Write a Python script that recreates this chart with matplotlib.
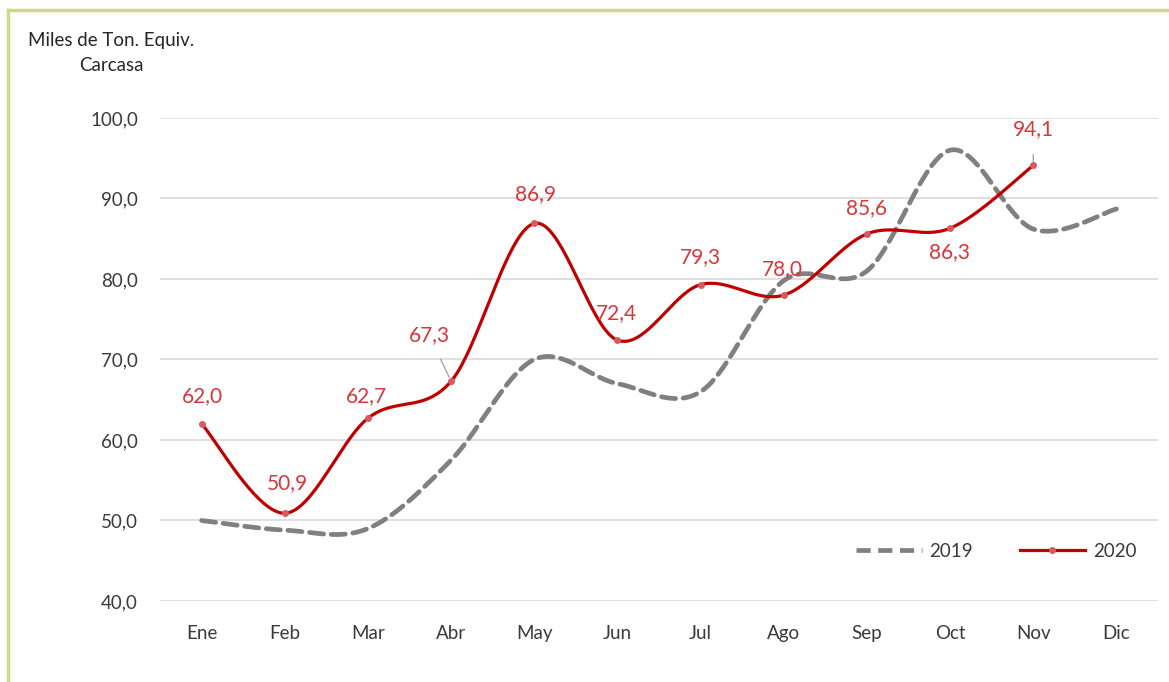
import numpy as np
import matplotlib.pyplot as plt
from matplotlib.lines import Line2D

plt.rcParams['font.family'] = ['Lato', 'DejaVu Sans']

meses = ['Ene', 'Feb', 'Mar', 'Abr', 'May', 'Jun', 'Jul', 'Ago', 'Sep', 'Oct', 'Nov', 'Dic']
serie_2019 = [50.0, 48.8, 49.0, 57.5, 70.0, 67.0, 66.0, 79.8, 81.0, 96.0, 86.2, 88.7]
serie_2020 = [62.0, 50.9, 62.7, 67.3, 86.9, 72.4, 79.3, 78.0, 85.6, 86.3, 94.1]
yticks = [40, 50, 60, 70, 80, 90, 100]

# label offsets in pixels (dx, dy) for the 2020 data labels
label_offsets = [(1, 28), (3, 30), (-2, 22), (-22, 46), (1, 29), (-1, 27),
                 (0, 28), (-1, 26), (0, 26), (-1, -24), (0, 36)]


def smooth(y, n=40):
    # Excel-like smoothed line: cubic bezier segments, tangents from neighbours
    x = np.arange(len(y), dtype=float)
    y = np.asarray(y, dtype=float)
    xs, ys = [], []
    t = np.linspace(0, 1, n)
    for i in range(len(y) - 1):
        i0 = max(i - 1, 0)
        i3 = min(i + 2, len(y) - 1)
        p0 = np.array([x[i], y[i]])
        p3 = np.array([x[i + 1], y[i + 1]])
        p1 = p0 + (p3 - np.array([x[i0], y[i0]])) / 6
        p2 = p3 - (np.array([x[i3], y[i3]]) - p0) / 6
        b = ((1 - t) ** 3)[:, None] * p0 + (3 * (1 - t) ** 2 * t)[:, None] * p1 \
            + (3 * (1 - t) * t ** 2)[:, None] * p2 + (t ** 3)[:, None] * p3
        xs.append(b[:, 0])
        ys.append(b[:, 1])
    return np.concatenate(xs), np.concatenate(ys)


fig = plt.figure(figsize=(11.69, 6.82), dpi=100)
ax = fig.add_axes([0.1369, 0.1188, 0.8537, 0.7082])

rojo = '#c00000'
gris = '#808080'

x19, y19 = smooth(serie_2019)
ax.plot(x19, y19, color=gris, linewidth=3.4, dashes=(3, 1.6),
        dash_capstyle='round', zorder=3)

x20, y20 = smooth(serie_2020)
ax.plot(x20, y20, color=rojo, linewidth=2.3, zorder=4)
ax.plot(range(len(serie_2020)), serie_2020, 'o', color='#d9595c', markersize=5,
        markeredgewidth=0, zorder=5)

for i, v in enumerate(serie_2020):
    dx, dy = label_offsets[i]
    txt = f'{v:.1f}'.replace('.', ',')
    lead = abs(dy) > 32
    ax.annotate(txt, xy=(i, v), xytext=(dx, dy), textcoords='offset pixels',
                ha='center', va='center', fontsize=15, color='#d8363c', zorder=6,
                arrowprops=dict(arrowstyle='-', color='#a6a6a6', lw=1,
                                shrinkA=9, shrinkB=3) if lead else None)

ax.set_xlim(-0.5, len(meses) - 0.5)
ax.set_ylim(40, 100)
ax.set_yticks(yticks)
ax.set_yticklabels([f'{v:.1f}'.replace('.', ',') for v in yticks])
ax.set_xticks(range(len(meses)))
ax.set_xticklabels(meses)
ax.tick_params(axis='both', length=0, labelsize=13.5, labelcolor='#3a3a3a')
ax.tick_params(axis='y', pad=16)
ax.tick_params(axis='x', pad=17)
ax.grid(axis='y', color='#d9d9d9', linewidth=1.2)
ax.set_axisbelow(True)
for s in ax.spines.values():
    s.set_visible(False)

handles = [Line2D([0], [0], color=gris, linewidth=3.4, dashes=(3, 1.6)),
           Line2D([0], [0], color=rojo, linewidth=2.3, marker='o',
                  markerfacecolor='#d9595c', markeredgewidth=0, markersize=5)]
ax.legend(handles, ['2019', '2020'], loc='lower right', bbox_to_anchor=(0.995, 0.05),
          ncol=2, frameon=False, fontsize=13.5, handlelength=3.5, columnspacing=2.5,
          handletextpad=0.4, labelcolor='#3a3a3a')

fig.text(0.095, 0.922, 'Miles de Ton. Equiv.\nCarcasa', ha='center', va='center',
         fontsize=13.5, color='#262626', linespacing=1.55)

# thin olive frame on the top and left edges
fig.add_artist(Line2D([0.0068, 0.0068], [0, 0.986], transform=fig.transFigure,
                      color='#d2d986', linewidth=2.5))
fig.add_artist(Line2D([0.0068, 1], [0.986, 0.986], transform=fig.transFigure,
                      color='#d2d986', linewidth=2.5))

fig.savefig('out.png', dpi=100)
